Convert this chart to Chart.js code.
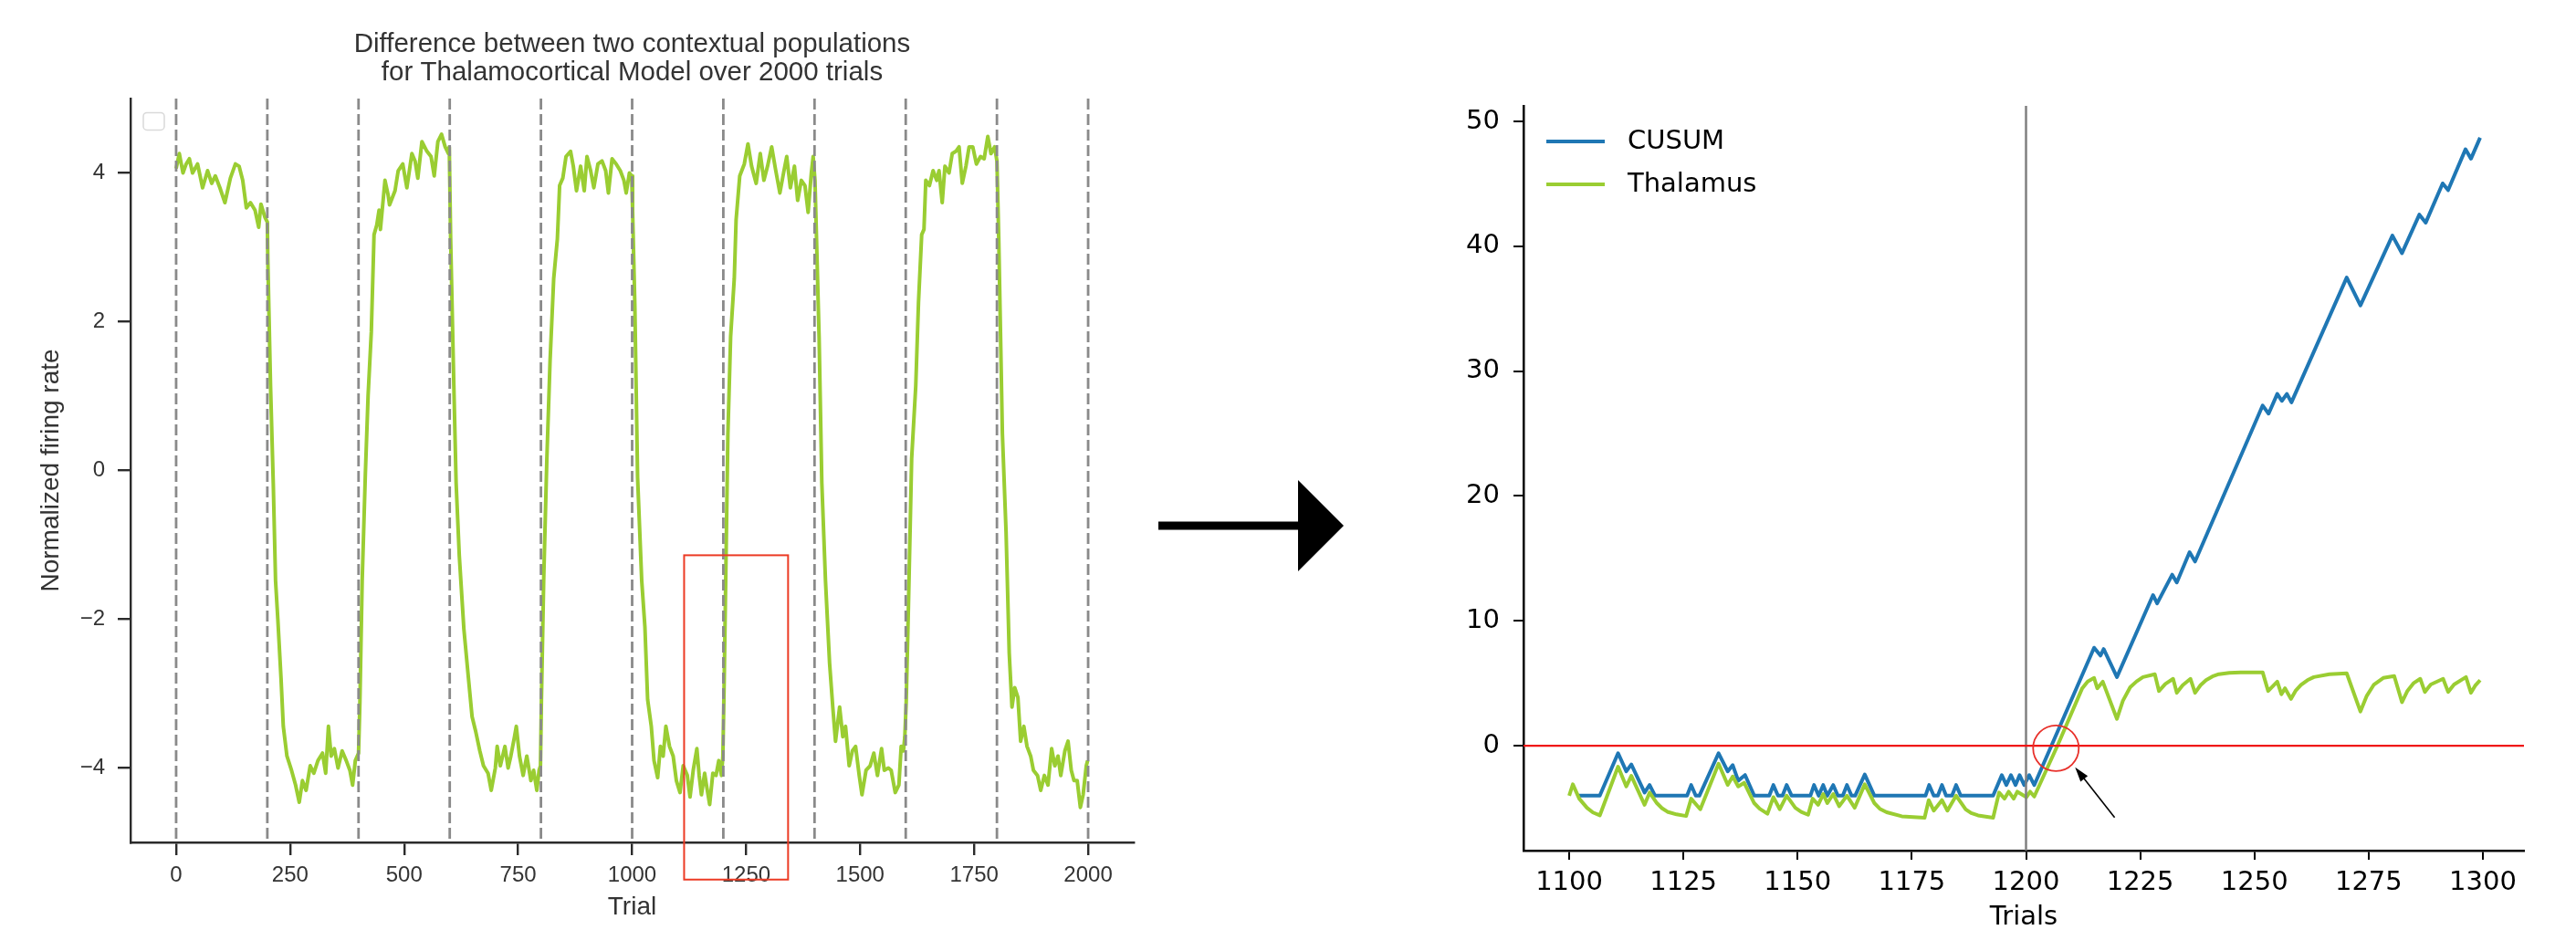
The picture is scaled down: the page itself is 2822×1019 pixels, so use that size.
<!DOCTYPE html>
<html>
<head>
<meta charset="utf-8">
<title>Thalamocortical CUSUM</title>
<script src="https://cdn.jsdelivr.net/npm/chart.js@4.4.1/dist/chart.umd.min.js"></script>
<style>
  html, body { margin: 0; padding: 0; background: #fff; overflow: hidden; }
  canvas { position: absolute; top: 0; }
  #izq { left: 0; }
  #der { left: 1560px; }
  #flecha { position: absolute; left: 0; top: 0; }
</style>
</head>
<body>
<canvas id="izq" width="1260" height="1019"></canvas>
<svg id="flecha" width="2822" height="1019">
  <rect x="1269" y="571.5" width="156" height="9" fill="#000"/>
  <polygon points="1422,526 1472,576 1422,626" fill="#000"/>
</svg>
<canvas id="der" width="1262" height="1040"></canvas>
<script>
// ---- datos panel izquierdo ----
const ensayos = [
  0, 7, 15, 22, 29, 36, 47, 58, 69, 78,
  86, 96, 107, 119, 130, 138, 146, 154, 163, 173,
  181, 186, 195, 200, 201, 207, 213, 218, 223, 230,
  235, 243, 253, 262, 270, 277, 285, 294, 302, 311,
  321, 328, 334, 340, 347, 355, 364, 373, 381, 387,
  393, 400, 403, 408, 415, 421, 428, 434, 440, 445,
  448, 458, 465, 468, 480, 487, 497, 506, 517, 524,
  530, 539, 550, 559, 566, 574, 582, 590, 597, 599,
  602, 609, 614, 621, 631, 641, 649, 657, 666, 674,
  684, 691, 700, 704, 711, 721, 728, 734, 742, 746,
  753, 761, 769, 778, 784, 791, 796, 799, 801, 806,
  813, 820, 828, 836, 841, 848, 855, 865, 871, 878,
  887, 895, 901, 909, 916, 925, 934, 942, 948, 956,
  965, 974, 982, 987, 994, 999, 1001, 1006, 1012, 1021,
  1028, 1034, 1042, 1048, 1056, 1062, 1068, 1074, 1082, 1090,
  1097, 1105, 1112, 1121, 1127, 1134, 1142, 1147, 1152, 1159,
  1163, 1170, 1177, 1184, 1190, 1196, 1199, 1202, 1206, 1210,
  1216, 1224, 1228, 1236, 1246, 1254, 1262, 1272, 1281, 1289,
  1297, 1306, 1315, 1324, 1333, 1339, 1347, 1356, 1363, 1371,
  1379, 1386, 1393, 1397, 1401, 1410, 1416, 1424, 1433, 1440,
  1446, 1455, 1462, 1468, 1476, 1483, 1490, 1498, 1504, 1513,
  1522, 1530, 1538, 1547, 1553, 1562, 1568, 1577, 1585, 1590,
  1595, 1598, 1601, 1606, 1613, 1622, 1628, 1635, 1640, 1644,
  1652, 1660, 1668, 1673, 1680, 1686, 1695, 1702, 1710, 1717,
  1724, 1732, 1739, 1747, 1755, 1764, 1772, 1780, 1787, 1795,
  1800, 1804, 1812, 1820, 1827, 1833, 1839, 1846, 1852, 1859,
  1866, 1874, 1880, 1889, 1896, 1904, 1912, 1920, 1927, 1934,
  1940, 1949, 1956, 1963, 1969, 1976, 1983, 1989, 1996, 1999
];
const diferencia = [
  4.06, 4.26, 4.0, 4.12, 4.19, 4.0, 4.12, 3.8, 4.03, 3.86,
  3.96, 3.8, 3.6, 3.93, 4.12, 4.09, 3.9, 3.53, 3.6, 3.5,
  3.27, 3.58, 3.4, 3.34, 2.85, 1.14, -0.17, -1.48, -2.0, -2.79,
  -3.44, -3.84, -4.03, -4.23, -4.46, -4.17, -4.3, -3.97, -4.07, -3.9,
  -3.8, -4.07, -3.44, -3.84, -3.74, -4.0, -3.77, -3.9, -4.03, -4.23,
  -3.9, -3.8, -3.12, -1.48, -0.04, 1.01, 1.86, 3.17, 3.3, 3.5,
  3.24, 3.9, 3.7, 3.57, 3.76, 4.03, 4.12, 3.8, 4.26, 4.16,
  3.93, 4.42, 4.29, 4.22, 3.96, 4.42, 4.52, 4.35, 4.26, 4.35,
  3.11, 1.14, -0.17, -1.15, -2.13, -2.79, -3.31, -3.51, -3.77, -3.97,
  -4.07, -4.3, -4.0, -3.71, -3.97, -3.71, -4.0, -3.84, -3.58, -3.44,
  -3.84, -4.1, -3.84, -4.17, -4.03, -4.3, -4.03, -3.97, -3.12, -1.48,
  0.16, 1.47, 2.58, 3.11, 3.83, 3.93, 4.22, 4.29, 4.09, 3.76,
  4.09, 3.76, 4.22, 4.03, 3.8, 4.12, 4.16, 4.03, 3.73, 4.19,
  4.12, 4.03, 3.9, 3.73, 4.0, 3.96, 3.5, 2.2, -0.1, -1.48,
  -2.1, -3.08, -3.44, -3.9, -4.13, -3.71, -3.84, -3.44, -3.71, -3.84,
  -4.17, -4.33, -3.97, -4.1, -4.39, -4.03, -3.74, -4.1, -4.36, -4.07,
  -4.23, -4.49, -4.07, -4.1, -3.9, -4.1, -3.84, -2.79, -1.15, 0.49,
  1.8, 2.58, 3.37, 3.96, 4.12, 4.39, 4.09, 3.86, 4.26, 3.9,
  4.09, 4.35, 4.03, 3.73, 4.03, 4.22, 3.8, 4.09, 3.63, 3.9,
  3.83, 3.47, 4.0, 4.22, 3.9, 1.8, -0.17, -1.48, -2.59, -3.18,
  -3.64, -3.18, -3.58, -3.44, -3.97, -3.77, -3.71, -4.1, -4.36, -4.03,
  -3.97, -3.8, -4.1, -3.74, -4.03, -4.0, -4.03, -4.33, -4.23, -3.71,
  -3.77, -3.58, -3.12, -1.81, 0.16, 1.14, 2.26, 3.17, 3.24, 3.9,
  3.83, 4.03, 3.9, 4.03, 3.6, 4.09, 4.0, 4.26, 4.29, 4.35,
  3.86, 4.09, 4.35, 4.35, 4.12, 4.22, 4.19, 4.49, 4.26, 4.35,
  4.16, 3.11, 0.49, -0.82, -2.46, -3.18, -2.92, -3.05, -3.64, -3.44,
  -3.71, -3.84, -4.03, -4.1, -4.3, -4.1, -4.23, -3.74, -3.97, -3.84,
  -4.1, -3.77, -3.64, -4.03, -4.17, -4.17, -4.53, -4.36, -3.97, -3.9
];
const cambiosContexto = [0, 200, 400, 600, 800, 1000, 1200, 1400, 1600, 1800, 2000];
const ticksXIzq = [0, 250, 500, 750, 1000, 1250, 1500, 1750, 2000];
const ticksYIzq = [-4, -2, 0, 2, 4];
// recuadro rojo: [ensayo ini, ensayo fin, y arriba, y abajo]
const zonaZoom = [1114, 1342, -1.14, -5.5];

// ---- datos panel derecho ----
const ensayosCusum = [
  1102, 1106.7, 1110.7, 1112.5, 1113.6, 1116.5, 1117.6, 1118.8, 1125.8, 1126.7,
  1127.7, 1128.5, 1132.7, 1134.7, 1135.8, 1137, 1138.5, 1140.5, 1143.8, 1144.7,
  1145.7, 1146.7, 1147.6, 1148.7, 1152.8, 1153.6, 1154.6, 1155.6, 1156.5, 1157.8,
  1158.8, 1159.9, 1160.8, 1161.8, 1162.6, 1164.7, 1166.8, 1178, 1178.8, 1179.8,
  1180.7, 1181.6, 1182.5, 1183.8, 1184.7, 1185.7, 1192.8, 1194.7, 1195.7, 1196.7,
  1197.7, 1198.6, 1199.6, 1200.7, 1201.8, 1214.9, 1216.3, 1217, 1219.9, 1227.8,
  1228.7, 1232, 1233, 1235.8, 1237, 1251.8, 1253.1, 1255, 1256, 1257.1,
  1258.1, 1270.2, 1273.2, 1280.2, 1282.3, 1286.1, 1287.5, 1291.2, 1292.4, 1296.2,
  1297.4, 1299.4
];
const valoresCusum = [
  -4, -4, -0.6, -2.05, -1.5, -3.75, -3.15, -4, -4, -3.15,
  -4, -4, -0.6, -2.05, -1.55, -2.8, -2.35, -4, -4, -3.15,
  -4, -4, -3.15, -4, -4, -3.15, -4, -3.15, -4, -3.15,
  -4, -4, -3.15, -4, -4, -2.3, -4, -4, -3.15, -4,
  -4, -3.15, -4, -4, -3.15, -4, -4, -2.36, -3.15, -2.36,
  -3.15, -2.36, -3.15, -2.36, -3.15, 7.85, 7.22, 7.74, 5.5, 12.07,
  11.4, 13.7, 13.08, 15.5, 14.75, 27.25, 26.6, 28.18, 27.62, 28.18,
  27.5, 37.5, 35.27, 40.86, 39.45, 42.54, 41.9, 45.04, 44.5, 47.77,
  47.02, 48.7
];
const ensayosTalamo = [
  1100, 1100.8, 1102.2, 1103.9, 1105.2, 1106.7, 1110.7, 1112.5, 1113.6, 1116.5,
  1117.6, 1119.2, 1120.3, 1121.5, 1123.5, 1125.6, 1126.7, 1128.7, 1132.7, 1134.7,
  1135.8, 1137, 1138.3, 1140.5, 1141.7, 1143.4, 1144.7, 1146.1, 1147.6, 1149.5,
  1150.8, 1152.3, 1153.3, 1154.5, 1155.6, 1156.5, 1157.8, 1159.1, 1160.8, 1162.5,
  1164.7, 1166.8, 1168, 1169.5, 1172.8, 1177.8, 1178.7, 1179.8, 1181.6, 1182.8,
  1184.7, 1186.8, 1188, 1189.5, 1192.8, 1194.1, 1195.3, 1196.2, 1197.3, 1198.1,
  1200.1, 1200.9, 1201.8, 1207, 1212.3, 1213.5, 1214.9, 1215.6, 1216.8, 1219.9,
  1221.2, 1222.8, 1224.2, 1225.6, 1228.2, 1229.1, 1230.5, 1232.2, 1233, 1234.3,
  1236, 1237, 1238.2, 1239.4, 1240.8, 1242.2, 1244.5, 1247, 1251.8, 1253,
  1255, 1255.9, 1256.7, 1258, 1259, 1260.2, 1261.6, 1263, 1266.4, 1270.2,
  1273.2, 1274.6, 1276.1, 1278.2, 1280.6, 1282.3, 1283.5, 1284.8, 1286.3, 1287.3,
  1288.6, 1291.3, 1292.4, 1293.7, 1296.3, 1297.4, 1298.3, 1299.4
];
const valoresTalamo = [
  -4.0, -3.09, -4.24, -4.97, -5.35, -5.58, -1.68, -3.26, -2.41, -4.73,
  -3.75, -4.6, -5.0, -5.29, -5.5, -5.63, -4.24, -5.09, -1.44, -3.14,
  -2.46, -3.26, -2.97, -4.6, -5.05, -5.45, -4.12, -5.09, -4.0, -4.97,
  -5.3, -5.53, -4.24, -4.73, -3.87, -4.6, -3.87, -4.85, -4.0, -4.97,
  -3.09, -4.6, -5.05, -5.33, -5.65, -5.77, -4.36, -5.2, -4.36, -5.2,
  -4.0, -5.1, -5.4, -5.58, -5.77, -3.75, -4.24, -3.68, -4.24, -3.68,
  -4.12, -3.68, -4.07, 0.1, 4.6, 5.15, 5.43, 4.6, 5.13, 2.15,
  3.6, 4.68, 5.15, 5.5, 5.73, 4.38, 4.95, 5.36, 4.24, 4.85,
  5.36, 4.24, 4.85, 5.25, 5.55, 5.73, 5.83, 5.88, 5.88, 4.38,
  5.13, 4.12, 4.6, 3.75, 4.4, 4.87, 5.25, 5.5, 5.73, 5.8,
  2.74, 4.0, 4.87, 5.43, 5.58, 3.49, 4.4, 5.0, 5.36, 4.31,
  4.9, 5.36, 4.31, 4.9, 5.5, 4.24, 4.8, 5.25
];
const ticksXDer = [1100, 1125, 1150, 1175, 1200, 1225, 1250, 1275, 1300];
const ticksYDer = [0, 10, 20, 30, 40, 50];
const ensayoCambio = 1200;
// circulo rojo [x, y] y flecha [x cola, y cola, x punta, y punta]
const centroCirculo = [1206.55, -0.2];
const flechaDeteccion = [1219.4, -5.75, 1210.75, -1.73];

const aPuntos = (xs, ys) => xs.map((x, i) => ({ x: x, y: ys[i] }));
const menos = v => (v < 0 ? '\u2212' + Math.abs(v) : String(v));

// ---- plugin para lineas y marcas del panel izquierdo ----
const decoIzq = {
  id: 'decoIzq',
  afterDatasetsDraw(chart) {
    const { ctx, chartArea, scales } = chart;
    ctx.save();
    ctx.strokeStyle = '#8a8a8a';
    ctx.lineWidth = 2.8;
    ctx.setLineDash([12, 5]);
    cambiosContexto.forEach(t => {
      const x = scales.x.getPixelForValue(t);
      ctx.beginPath();
      ctx.moveTo(x, chartArea.top);
      ctx.lineTo(x, chartArea.bottom);
      ctx.stroke();
    });
    ctx.restore();
  },
  afterDraw(chart) {
    const { ctx, chartArea, scales } = chart;
    ctx.save();
    // recuadro de la zona ampliada
    const x0 = scales.x.getPixelForValue(zonaZoom[0]);
    const x1 = scales.x.getPixelForValue(zonaZoom[1]);
    const y0 = scales.y.getPixelForValue(zonaZoom[2]);
    const y1 = scales.y.getPixelForValue(zonaZoom[3]);
    ctx.strokeStyle = '#ec3b24';
    ctx.lineWidth = 2;
    ctx.strokeRect(x0, y0, x1 - x0, y1 - y0);
    // leyenda vacia de matplotlib
    ctx.strokeStyle = '#d9d9d9';
    ctx.lineWidth = 1.5;
    ctx.beginPath();
    ctx.roundRect(chartArea.left + 14, chartArea.top + 15.5, 23, 19, 4);
    ctx.stroke();
    ctx.restore();
  }
};

// ---- plugin del panel derecho ----
const decoDer = {
  id: 'decoDer',
  afterDatasetsDraw(chart) {
    const { ctx, chartArea, scales } = chart;
    ctx.save();
    // linea vertical del cambio de contexto
    const xc = scales.x.getPixelForValue(ensayoCambio);
    ctx.strokeStyle = '#808080';
    ctx.lineWidth = 2.5;
    ctx.beginPath();
    ctx.moveTo(xc, chartArea.top);
    ctx.lineTo(xc, chartArea.bottom);
    ctx.stroke();
    // umbral en cero
    const y0 = scales.y.getPixelForValue(0);
    ctx.strokeStyle = '#f01414';
    ctx.lineWidth = 2.4;
    ctx.beginPath();
    ctx.moveTo(chartArea.left, y0);
    ctx.lineTo(chartArea.right, y0);
    ctx.stroke();
    // circulo del punto de deteccion
    const cx = scales.x.getPixelForValue(centroCirculo[0]);
    const cy = scales.y.getPixelForValue(centroCirculo[1]);
    const r = scales.x.getPixelForValue(centroCirculo[0] + 5) - cx;
    ctx.strokeStyle = '#e8302a';
    ctx.lineWidth = 1.8;
    ctx.beginPath();
    ctx.arc(cx, cy, r, 0, Math.PI * 2);
    ctx.stroke();
    // flecha
    const tx = scales.x.getPixelForValue(flechaDeteccion[0]);
    const ty = scales.y.getPixelForValue(flechaDeteccion[1]);
    const hx = scales.x.getPixelForValue(flechaDeteccion[2]);
    const hy = scales.y.getPixelForValue(flechaDeteccion[3]);
    const ang = Math.atan2(hy - ty, hx - tx);
    ctx.strokeStyle = '#000';
    ctx.fillStyle = '#000';
    ctx.lineWidth = 1.6;
    ctx.beginPath();
    ctx.moveTo(tx, ty);
    ctx.lineTo(hx - 10 * Math.cos(ang), hy - 10 * Math.sin(ang));
    ctx.stroke();
    ctx.beginPath();
    ctx.moveTo(hx, hy);
    ctx.lineTo(hx - 16 * Math.cos(ang) + 5 * Math.sin(ang), hy - 16 * Math.sin(ang) - 5 * Math.cos(ang));
    ctx.lineTo(hx - 16 * Math.cos(ang) - 5 * Math.sin(ang), hy - 16 * Math.sin(ang) + 5 * Math.cos(ang));
    ctx.closePath();
    ctx.fill();
    // leyenda
    ctx.font = '29px "DejaVu Sans"';
    ctx.textBaseline = 'middle';
    chart.data.datasets.forEach((ds, i) => {
      const y = chartArea.top + 39 + i * 47;
      ctx.strokeStyle = ds.borderColor;
      ctx.lineWidth = 4;
      ctx.beginPath();
      ctx.moveTo(chartArea.left + 25, y);
      ctx.lineTo(chartArea.left + 89, y);
      ctx.stroke();
      ctx.fillStyle = '#000';
      ctx.fillText(ds.label, chartArea.left + 114, y);
    });
    ctx.restore();
  }
};

// ---- grafico izquierdo ----
const fuenteIzq = 'Liberation Sans';
new Chart(document.getElementById('izq').getContext('2d'), {
  type: 'line',
  data: {
    datasets: [{
      data: aPuntos(ensayos, diferencia),
      borderColor: '#9acd32',
      borderWidth: 4,
      borderJoinStyle: 'round',
      pointRadius: 0,
      fill: false,
      tension: 0
    }]
  },
  options: {
    responsive: false,
    animation: false,
    layout: { padding: { left: 0, right: 18, top: 0, bottom: 0 } },
    plugins: {
      legend: { display: false },
      tooltip: { enabled: false },
      title: {
        display: true,
        fullSize: false,
        text: ['Difference between two contextual populations', 'for Thalamocortical Model over 2000 trials'],
        color: '#333',
        font: { family: fuenteIzq, size: 29.5, weight: 'normal', lineHeight: 1.05 },
        padding: { top: 33, bottom: 13 }
      }
    },
    scales: {
      x: {
        type: 'linear',
        min: -100,
        max: 2100,
        afterBuildTicks: s => { s.ticks = ticksXIzq.map(v => ({ value: v })); },
        afterFit: s => { s.height = 96; },
        grid: { drawOnChartArea: false, drawTicks: true, tickLength: 14, color: '#2b2b2b', lineWidth: 2.4 },
        border: { display: true, color: '#2b2b2b', width: 2.4 },
        ticks: { autoSkip: false, maxRotation: 0, padding: 7.6, color: '#333', font: { family: fuenteIzq, size: 24 }, callback: v => String(v) },
        title: { display: true, text: 'Trial', color: '#333', font: { family: fuenteIzq, size: 28 }, padding: { top: 0, bottom: 8 } }
      },
      y: {
        type: 'linear',
        min: -5,
        max: 5,
        afterBuildTicks: s => { s.ticks = ticksYIzq.map(v => ({ value: v })); },
        afterFit: s => { s.width = 143; },
        grid: { drawOnChartArea: false, drawTicks: true, tickLength: 14, color: '#2b2b2b', lineWidth: 2.4 },
        border: { display: true, color: '#2b2b2b', width: 2.4 },
        ticks: { padding: 14, color: '#333', font: { family: fuenteIzq, size: 24 }, callback: v => menos(v) },
        title: { display: true, text: 'Normalized firing rate', color: '#333', font: { family: fuenteIzq, size: 28 }, padding: { top: 39, bottom: 0 } }
      }
    }
  },
  plugins: [decoIzq]
});

// ---- grafico derecho ----
const fuenteDer = 'DejaVu Sans';
new Chart(document.getElementById('der').getContext('2d'), {
  type: 'line',
  data: {
    datasets: [
      {
        label: 'CUSUM',
        data: aPuntos(ensayosCusum, valoresCusum),
        borderColor: '#1f77b4',
        borderWidth: 4,
        borderJoinStyle: 'round',
        pointRadius: 0,
        fill: false,
        tension: 0,
        order: 1
      },
      {
        label: 'Thalamus',
        data: aPuntos(ensayosTalamo, valoresTalamo),
        borderColor: '#9acd32',
        borderWidth: 4,
        borderJoinStyle: 'round',
        pointRadius: 0,
        fill: false,
        tension: 0,
        order: 0
      }
    ]
  },
  options: {
    responsive: false,
    animation: false,
    layout: { padding: { left: 0, right: 57, top: 116, bottom: 0 } },
    plugins: {
      legend: { display: false },
      tooltip: { enabled: false }
    },
    scales: {
      x: {
        type: 'linear',
        min: 1090,
        max: 1309,
        afterBuildTicks: s => { s.ticks = ticksXDer.map(v => ({ value: v })); },
        afterFit: s => { s.height = 108; },
        grid: { drawOnChartArea: false, drawTicks: true, tickLength: 10, color: '#000', lineWidth: 2 },
        border: { display: true, color: '#000', width: 2.5 },
        ticks: { autoSkip: false, maxRotation: 0, padding: 8, color: '#000', font: { family: fuenteDer, size: 29 }, callback: v => String(v) },
        title: { display: true, text: 'Trials', color: '#000', font: { family: fuenteDer, size: 29 }, padding: { top: 0, bottom: 17.6 } }
      },
      y: {
        type: 'linear',
        min: -8.4,
        max: 51.25,
        afterBuildTicks: s => { s.ticks = ticksYDer.map(v => ({ value: v })); },
        afterFit: s => { s.width = 109; },
        grid: { drawOnChartArea: false, drawTicks: true, tickLength: 11, color: '#000', lineWidth: 2 },
        border: { display: true, color: '#000', width: 2.5 },
        ticks: { padding: 15, color: '#000', font: { family: fuenteDer, size: 29 }, callback: v => String(v) }
      }
    }
  },
  plugins: [decoDer]
});
</script>
</body>
</html>
